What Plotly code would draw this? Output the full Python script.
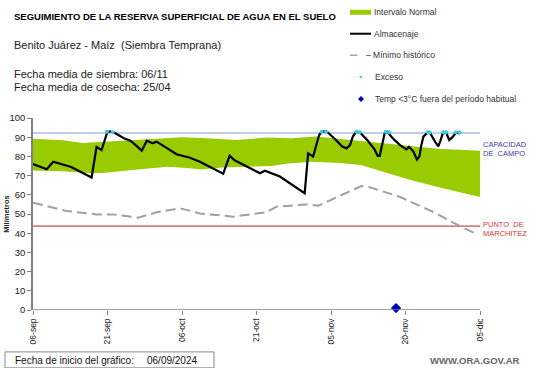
import pandas as pd
import plotly.graph_objects as go

START = pd.Timestamp("2024-09-06")

# ---- data (days since 06-sep-2024, millimetres) ----
band_upper_days = [0, 6, 10, 14, 20, 27, 30, 34, 41, 47, 52, 57, 62, 66, 70, 76, 82, 86, 90]
band_upper_vals = [89.2, 88.4, 87.0, 87.6, 88.4, 89.8, 90.0, 89.6, 88.6, 89.8, 89.5, 90.3, 89.0, 87.8, 86.6, 85.0, 83.8, 83.5, 83.0]
band_lower_days = [0, 6, 11.5, 14, 20, 27, 31, 34, 38, 44, 48, 51, 56, 62, 66, 69, 76, 82.5, 87, 90]
band_lower_vals = [72.6, 72.3, 71.2, 71.3, 72.9, 74.6, 74.0, 73.2, 74.2, 74.6, 75.0, 76.2, 77.2, 76.5, 75.5, 73.2, 67.7, 63.4, 60.8, 58.8]

alm_days = [0, 2.76, 4.08, 7.7, 11.8, 12.8, 13.8, 14.95, 15.5, 16.5, 18.3, 19.7, 21.9, 22.9, 24.1, 24.9,
            28.9, 31.6, 33.6, 38.3, 39.6, 40.6, 45.7, 46.7, 49.7, 54.7, 55.4, 56.4, 57.6, 58.1, 58.8, 59.4,
            60.9, 62.2, 63.1, 63.8, 64.4, 65.1, 65.8, 67.3, 68.8, 69.4, 69.8, 70.3, 70.8, 71.3, 72.6, 73.9,
            75.2, 75.7, 76.6, 77.3, 77.8, 78.2, 78.6, 79.5, 80.0, 81.0, 81.6, 82.0, 82.5, 83.2, 83.8, 84.4,
            85.2, 85.9]
alm_vals = [76, 73.3, 77.2, 74.5, 69, 85, 83.3, 92.5, 93, 92.2, 89.5, 88, 83, 88.2, 86.8, 87.7,
            81.1, 79.3, 77.2, 71, 80.4, 78, 71.2, 72.5, 69.5, 60.8, 81.6, 79.9, 91, 92.8, 93, 92.4,
            88.8, 85.3, 84.2, 85.8, 90.3, 92.9, 92.4, 88.5, 83.5, 80.2, 80.2, 86, 92, 92.9, 89, 85.9,
            83.7, 85, 82.5, 78.3, 80, 86, 90.3, 92.5, 92, 87.5, 85.2, 88, 92, 92.4, 88.5, 89.9,
            92.4, 92]

min_days = [0, 6.7, 12.8, 16.1, 21.2, 24.9, 29.6, 33.6, 40.3, 45.7, 47.0, 49.0, 55.1, 57.4, 66.1, 67.8,
            73.8, 77.9, 80.5, 84.6, 89.6]
min_vals = [55.9, 51.6, 49.8, 49.8, 48.1, 50.9, 53, 50.3, 48.6, 50.3, 50.9, 53.8, 55, 54.3, 64.6, 63.9,
            59, 54.2, 51.2, 45.5, 39.1]

exceso_days = [14.9, 16.0, 58.1, 59.0, 65.1, 65.8, 71.0, 71.7, 79.5, 79.9, 82.7, 83.2, 85.1, 85.9]
exceso_vals = [92.8, 92.6, 92.8, 92.8, 92.8, 92.6, 92.8, 92.6, 92.6, 92.4, 92.6, 92.6, 92.6, 92.4]

temp_days = [73.1]
temp_vals = [1]

capacidad_campo = 92.2
punto_marchitez = 43.7
axis_end_day = 90

tick_days = [0, 15, 30, 45, 60, 75, 90]
tick_text = ["06-sep", "21-sep", "06-oct", "21-oct", "05-nov", "20-nov", "05-dic"]


def d(days):
    return [START + pd.Timedelta(days=float(x)) for x in days]


# ---- layout geometry in pixels ----
W, H = 541, 368
L, R, T, B = 33, 480, 118, 310.5


def px(x):
    return (x - L) / (R - L)


def py(y):
    return (B - y) / (B - T)


FONT = "Liberation Sans, Arial, sans-serif"
GREEN = "#99cc00"

fig = go.Figure()

# Normal interval band
fig.add_trace(go.Scatter(x=d(band_lower_days), y=band_lower_vals, mode="lines",
                         line=dict(width=0, color=GREEN), hoverinfo="skip"))
fig.add_trace(go.Scatter(x=d(band_upper_days), y=band_upper_vals, mode="lines",
                         line=dict(width=0, color=GREEN), fill="tonexty", fillcolor=GREEN,
                         hoverinfo="skip"))

# Capacity and wilting lines
fig.add_trace(go.Scatter(x=d([0, axis_end_day]), y=[capacidad_campo] * 2, mode="lines",
                         line=dict(color="#7f9fd6", width=1.2)))
fig.add_trace(go.Scatter(x=d([0, axis_end_day]), y=[punto_marchitez] * 2, mode="lines",
                         line=dict(color="#c0504d", width=1.2)))

# Historical minimum
fig.add_trace(go.Scatter(x=d(min_days), y=min_vals, mode="lines",
                         line=dict(color="#a0a0a0", width=2, dash="10px,5px")))

# Storage
fig.add_trace(go.Scatter(x=d(alm_days), y=alm_vals, mode="lines",
                         line=dict(color="black", width=2.2)))

# Excess
fig.add_trace(go.Scatter(x=d(exceso_days), y=exceso_vals, mode="markers",
                         marker=dict(color="#40c8e0", size=4, symbol="circle")))

# Temperature
fig.add_trace(go.Scatter(x=d(temp_days), y=temp_vals, mode="markers", cliponaxis=False,
                         marker=dict(color="#0000cc", size=8, symbol="diamond")))

shapes = []
annotations = []

# x axis line only up to last tick
shapes.append(dict(type="line", xref="x", yref="y", x0=d([0])[0], x1=d([axis_end_day])[0],
                   y0=0, y1=0, line=dict(color="#808080", width=1.5)))


def text(x, y, s, size, color="#222", bold=False, xanchor="left", angle=0, family=FONT):
    if bold:
        s = "<b>" + s + "</b>"
    annotations.append(dict(x=px(x), y=py(y), xref="paper", yref="paper", text=s, showarrow=False,
                            xanchor=xanchor, yanchor="middle", textangle=angle,
                            font=dict(size=size, color=color, family=family)))


# Header texts
text(12, 16, "SEGUIMIENTO DE LA RESERVA SUPERFICIAL DE AGUA EN EL SUELO", 9.5, "#000", bold=True)
text(12, 45, "Benito Juárez - Maíz \u00a0(Siembra Temprana)", 11, "#222")
text(12, 74, "Fecha media de siembra: 06/11", 11, "#222")
text(12, 87, "Fecha media de cosecha: 25/04", 11, "#222")

# Legend
shapes.append(dict(type="rect", xref="paper", yref="paper", x0=px(350), x1=px(371), y0=py(14.5), y1=py(9.5),
                   fillcolor=GREEN, line=dict(width=0)))
text(372, 12, "Intervalo Normal", 8.5, "#333")
shapes.append(dict(type="line", xref="paper", yref="paper", x0=px(350), x1=px(371), y0=py(33.5), y1=py(33.5),
                   line=dict(color="black", width=2)))
text(372, 33.5, "Almacenaje", 8.5, "#333")
shapes.append(dict(type="line", xref="paper", yref="paper", x0=px(350), x1=px(357.5), y0=py(55), y1=py(55),
                   line=dict(color="#a0a0a0", width=1.5)))
text(364, 55, "– Mínimo histórico", 8.5, "#333")
shapes.append(dict(type="circle", xref="paper", yref="paper", x0=px(359.5), x1=px(362), y0=py(78.2), y1=py(75.7),
                   fillcolor="#40c8e0", line=dict(width=0)))
text(373, 77, "Exceso", 8.5, "#333")
shapes.append(dict(type="path", xref="paper", yref="paper",
                   path="M {a},{b} L {c},{e} L {a},{f} L {g},{e} Z".format(
                       a=px(361), b=py(96), c=px(364), e=py(99), f=py(102), g=px(358)),
                   fillcolor="#0000cc", line=dict(width=0)))
text(373, 99, "Temp <3°C fuera del período habitual", 8.5, "#333")

# Right-side labels
text(481, 145, "CAPACIDAD", 7.5, "#3b3ba8")
text(481, 154, "DE\u00a0 CAMPO", 7.5, "#3b3ba8")
text(481, 224.5, "PUNTO\u00a0 DE", 7.5, "#d03535")
text(481, 233.5, "MARCHITEZ", 7.5, "#d03535")

# Y title
text(7, 214, "Milímetros", 7.5, "#222", bold=True, xanchor="center", angle=-90)

# Bottom box
shapes.append(dict(type="rect", xref="paper", yref="paper", x0=px(5), x1=px(214), y0=py(368.5), y1=py(352.5),
                   fillcolor="rgba(0,0,0,0)", line=dict(color="#888", width=1)))
text(13, 361, "Fecha de inicio del gráfico:", 10, "#111")
text(145, 361, "06/09/2024", 10, "#111")
text(428, 361, "WWW.ORA.GOV.AR", 9.5, "#666", bold=True)

fig.update_layout(
    template="none",
    width=W, height=H, autosize=False,
    margin=dict(l=L, r=W - R, t=T, b=H - B, pad=0),
    paper_bgcolor="white", plot_bgcolor="white",
    showlegend=False,
    shapes=shapes, annotations=annotations,
    font=dict(family=FONT, color="#222"),
    xaxis=dict(type="date", range=[START, START + pd.Timedelta(days=axis_end_day)],
               tickvals=d(tick_days), ticktext=tick_text, tickangle=-90,
               ticks="outside", ticklen=4, tickcolor="#808080", tickwidth=1.2,
               showgrid=False, zeroline=False, showline=False,
               tickfont=dict(size=8.5, color="#222", family=FONT), automargin=False),
    yaxis=dict(range=[0, 100], tickvals=list(range(0, 101, 10)),
               ticks="outside", ticklen=4, tickcolor="#808080", tickwidth=1.2,
               showgrid=False, zeroline=False, showline=True, linecolor="#808080", linewidth=1.5,
               tickfont=dict(size=9.5, color="#222", family=FONT), automargin=False),
)

fig.write_html("out.html", config={"displayModeBar": False},
               post_script="document.body.style.margin='0px';document.body.style.overflow='hidden';")
